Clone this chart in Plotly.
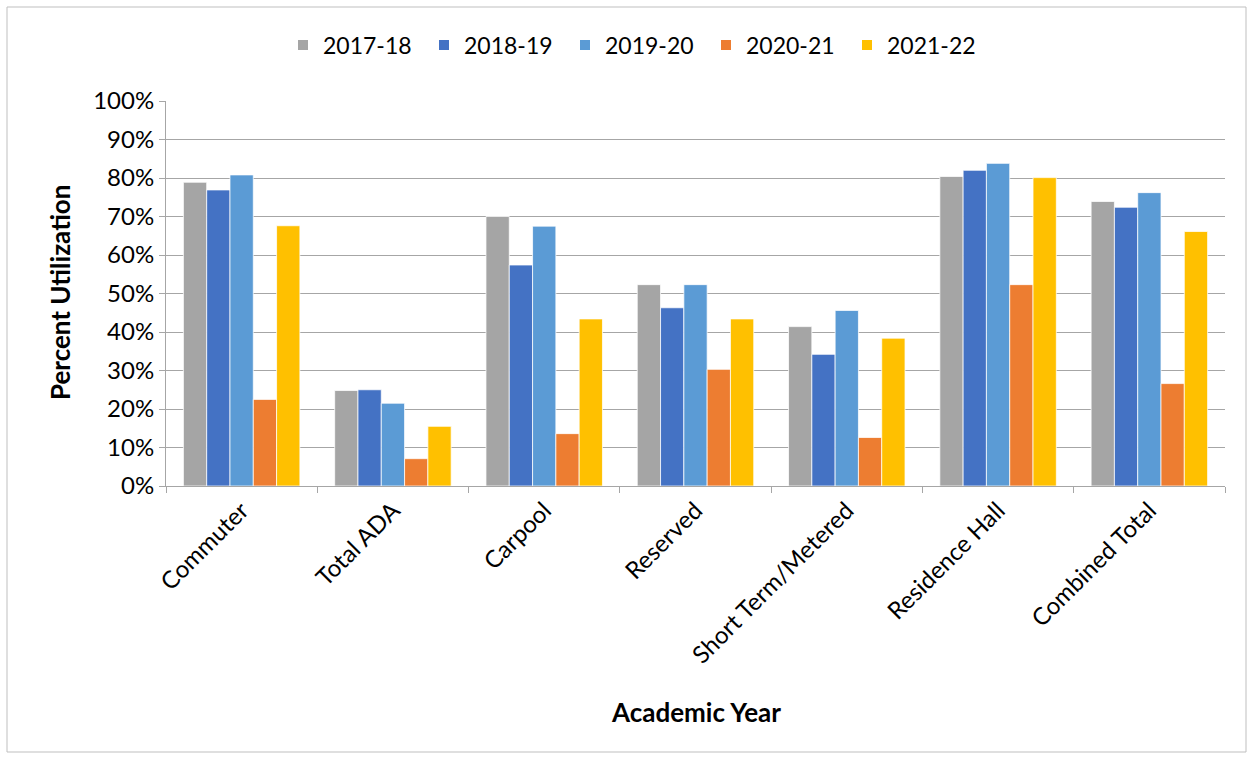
import plotly.graph_objects as go

categories = ["Commuter", "Total ADA", "Carpool", "Reserved", "Short Term/Metered",
              "Residence Hall", "Combined Total"]
years = ["2017-18", "2018-19", "2019-20", "2020-21", "2021-22"]
v_2017_18 = [78.9, 24.8, 70.0, 52.3, 41.4, 80.4, 73.9]
v_2018_19 = [76.9, 25.0, 57.4, 46.3, 34.2, 82.0, 72.4]
v_2019_20 = [80.8, 21.5, 67.5, 52.3, 45.6, 83.8, 76.2]
v_2020_21 = [22.5, 7.1, 13.6, 30.3, 12.6, 52.3, 26.6]
v_2021_22 = [67.6, 15.5, 43.4, 43.4, 38.4, 80.1, 66.1]
series = [v_2017_18, v_2018_19, v_2019_20, v_2020_21, v_2021_22]
colors = ["#A5A5A5", "#4472C4", "#5B9BD5", "#ED7D31", "#FFC000"]

FONT = "Lato"
fig = go.Figure()
for name, vals, col in zip(years, series, colors):
    fig.add_trace(go.Bar(
        x=categories, y=[v / 100 for v in vals], name=name,
        marker=dict(color=col, line=dict(color="white", width=0.75)),
    ))

W, H = 1253, 759
L, R, T, B = 166, 28, 101, 273
pw, ph = W - L - R, H - T - B

def px_x(p):
    return (p - L) / pw

def px_y(p):
    return (H - B - p) / ph

fig.update_layout(
    width=W, height=H,
    margin=dict(l=L, r=R, t=T, b=B),
    paper_bgcolor="white", plot_bgcolor="white",
    barmode="group", bargap=0.23, bargroupgap=0,
    font=dict(family=FONT, size=24, color="black"),
    legend=dict(orientation="h", x=px_x(283), xanchor="left", y=px_y(45), yanchor="middle",
                font=dict(family=FONT, size=23), traceorder="normal",
                itemsizing="constant", entrywidth=96, entrywidthmode="pixels"),
    xaxis=dict(
        showgrid=False, showline=True, linecolor="#A6A6A6", linewidth=1,
        ticks="outside", tickson="boundaries", ticklen=6, tickcolor="#A6A6A6",
        tickangle=-45, tickfont=dict(family=FONT, size=24),
    ),
    yaxis=dict(
        range=[0, 1], dtick=0.1, tickformat=".0%",
        showgrid=True, gridcolor="#A6A6A6", gridwidth=1,
        showline=True, linecolor="#A6A6A6", linewidth=1,
        ticks="outside", ticklen=6, tickcolor="#A6A6A6",
        tickfont=dict(family=FONT, size=24), zeroline=False,
    ),
    annotations=[
        dict(text="<b>Academic Year</b>", xref="paper", yref="paper",
             x=px_x(696), y=px_y(712), xanchor="center", yanchor="middle",
             showarrow=False, font=dict(family=FONT, size=26)),
        dict(text="<b>Percent Utilization</b>", xref="paper", yref="paper",
             x=px_x(60), y=px_y(293), xanchor="center", yanchor="middle",
             textangle=-90, showarrow=False, font=dict(family=FONT, size=26)),
    ],
    shapes=[
        dict(type="rect", xref="paper", yref="paper",
             x0=px_x(7), x1=px_x(1246), y0=px_y(752), y1=px_y(7),
             line=dict(color="#BFBFBF", width=1), layer="below"),
    ],
)

fig.write_html("out.html", config={"displayModeBar": False},
               post_script="document.body.style.margin='0';document.body.style.overflow='hidden';")
